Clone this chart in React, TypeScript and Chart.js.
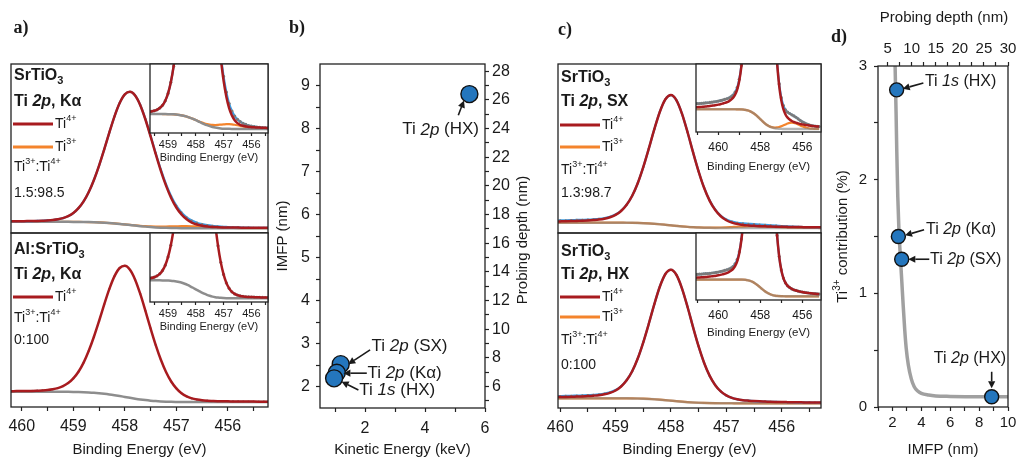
import React, { useEffect, useRef } from "react";
import { Chart, registerables } from "chart.js";
Chart.register(...registerables);

const W = 1018;
const H = 463;
const SANS = "'Liberation Sans', Arial, Helvetica, sans-serif";
const SERIF = "'Liberation Serif', 'Times New Roman', serif";
const RED = "#a81b1f";
const ORANGE = "#f4842c";
const BLUE = "#3c9ce2";
const GRAY = "#8d8d8d";
const DOTC = "#7a7a7a";
const MARK = "#2476bd";
const INK = "#1a1a1a";

// ---------------- panel a (Ti 2p, K-alpha) ----------------
const eVa = [460.2,460.1,460.0,459.9,459.8,459.7,459.6,459.5,459.4,459.3,459.2,459.1,459.0,458.9,458.8,458.7,458.6,458.5,458.4,458.3,458.2,458.1,458.0,457.9,457.8,457.7,457.6,457.5,457.4,457.3,457.2,457.1,457.0,456.9,456.8,456.7,456.6,456.5,456.4,456.3,456.2,456.1,456.0,455.9,455.8,455.7,455.6,455.5,455.4,455.3,455.2,455.1];
const redKa = [.082,.0823,.0827,.083,.0836,.0841,.0857,.0876,.0906,.0957,.1039,.1178,.1396,.1733,.2209,.2862,.3702,.4707,.5838,.7024,.8145,.9071,.9674,.9855,.9596,.8919,.7925,.6746,.5512,.4343,.3308,.2448,.1781,.1297,.0954,.0732,.0591,.0507,.0456,.0426,.0407,.0391,.0386,.038,.0377,.0373,.0369,.0365,.0363,.0361,.0359,.0357];
const bgKa = [.078,.078,.078,.078,.078,.078,.078,.078,.078,.078,.0779,.0778,.0776,.0773,.0769,.0762,.0752,.0737,.0718,.0694,.0665,.0631,.0594,.0555,.0516,.0479,.0445,.0416,.0392,.0373,.0358,.0348,.0341,.0337,.0334,.0332,.0331,.033,.033,.033,.033,.033,.033,.033,.033,.033,.033,.033,.033,.033,.033,.033];
const ti3Ka = [.078,.078,.078,.078,.078,.078,.078,.078,.078,.078,.0779,.0778,.0776,.0773,.0769,.0762,.0752,.0737,.0718,.0694,.0666,.0634,.0599,.0563,.0529,.0499,.0476,.046,.0452,.045,.0454,.0461,.0468,.0474,.0474,.0469,.0458,.0443,.0426,.0407,.039,.0374,.0361,.035,.0343,.0338,.0335,.0333,.0331,.033,.033,.033];
const envKa = [.082,.0823,.0827,.083,.0836,.0841,.0857,.0876,.0906,.0957,.1039,.1178,.1396,.1733,.2209,.2862,.3702,.4707,.5838,.7024,.8146,.9074,.9679,.9863,.9609,.8939,.7956,.679,.5572,.442,.3404,.2561,.1908,.1434,.1094,.0869,.0718,.062,.0552,.0503,.0467,.0435,.0417,.04,.039,.0381,.0374,.0368,.0364,.0361,.0359,.0357];

// Al:SrTiO3
const eVal = [460.3,460.2,460.1,460.0,459.9,459.8,459.7,459.6,459.5,459.4,459.3,459.2,459.1,459.0,458.9,458.8,458.7,458.6,458.5,458.4,458.3,458.2,458.1,458.0,457.9,457.8,457.7,457.6,457.5,457.4,457.3,457.2,457.1,457.0,456.9,456.8,456.7,456.6,456.5,456.4,456.3,456.2,456.1,456.0,455.9,455.8,455.7,455.6,455.5,455.4,455.3,455.2];
const redAl = [.1119,.1123,.1127,.113,.1136,.1141,.1157,.1176,.1206,.1257,.1339,.1477,.1694,.2029,.2502,.315,.3984,.4981,.6099,.727,.8373,.9278,.9858,1.0015,.9732,.9032,.8017,.682,.5571,.4389,.3346,.248,.1808,.1321,.0976,.0753,.0611,.0527,.0476,.0446,.0427,.0411,.0406,.04,.0397,.0393,.0389,.0385,.0383,.0381,.0379,.0377];
const bgAl = [.108,.108,.108,.108,.108,.108,.108,.108,.108,.108,.1079,.1077,.1074,.1069,.1062,.105,.1034,.1011,.0979,.094,.0893,.0838,.0778,.0715,.0652,.0592,.0537,.049,.0451,.0419,.0396,.038,.0368,.0361,.0356,.0353,.0351,.035,.035,.035,.035,.035,.035,.035,.035,.035,.035,.035,.035,.035,.035,.035];

// ---------------- panel c (Ti 2p, SX and HX) ----------------
const eVc = [461.1,461.0,460.9,460.8,460.7,460.6,460.5,460.4,460.3,460.2,460.1,460.0,459.9,459.8,459.7,459.6,459.5,459.4,459.3,459.2,459.1,459.0,458.9,458.8,458.7,458.6,458.5,458.4,458.3,458.2,458.1,458.0,457.9,457.8,457.7,457.6,457.5,457.4,457.3,457.2,457.1,457.0,456.9,456.8,456.7,456.6,456.5,456.4,456.3,456.2,456.1,456.0,455.9,455.8,455.7,455.6,455.5,455.4,455.3,455.2];
const redSX = [.0789,.0792,.0794,.0797,.0801,.0805,.0809,.0814,.082,.0826,.0833,.0841,.085,.0861,.0875,.0888,.0907,.0937,.0975,.1037,.1139,.1312,.1596,.2043,.2697,.3607,.4773,.6112,.7526,.8793,.9695,.9995,.9615,.8637,.7304,.5838,.4457,.3263,.2333,.1667,.1214,.0926,.0751,.0647,.0585,.0547,.0517,.0498,.0485,.0471,.046,.0451,.0443,.0436,.043,.0424,.0419,.0415,.0411,.0407];
const bgSX = [.075,.075,.075,.075,.075,.075,.075,.075,.075,.075,.075,.075,.075,.075,.075,.075,.075,.075,.075,.075,.0749,.0748,.0746,.0743,.0737,.0727,.0713,.0692,.0666,.0633,.0595,.0555,.0515,.0477,.0444,.0418,.0397,.0383,.0373,.0367,.0364,.0362,.0361,.036,.036,.036,.036,.036,.036,.036,.036,.036,.036,.036,.036,.036,.036,.036,.036,.036];
const ti3SX = [.075,.075,.075,.075,.075,.075,.075,.075,.075,.075,.075,.075,.075,.075,.075,.075,.075,.075,.075,.075,.0749,.0748,.0746,.0743,.0737,.0727,.0713,.0692,.0666,.0633,.0595,.0555,.0515,.0477,.0444,.042,.0401,.0391,.0387,.039,.04,.0414,.0432,.045,.0467,.0479,.0483,.0479,.0467,.045,.0431,.0412,.0396,.0383,.0374,.0368,.0364,.0362,.036,.036];
const envSX = [.0859,.0862,.0864,.0867,.0871,.0875,.0879,.0884,.089,.0896,.0903,.0911,.092,.0931,.0945,.0958,.0972,.0997,.103,.1087,.1179,.1342,.1616,.2053,.2697,.3607,.4773,.6112,.7526,.8793,.9695,.9995,.9615,.8637,.7304,.584,.4461,.3271,.2347,.169,.125,.0978,.0822,.0737,.0692,.0666,.064,.0617,.0592,.0561,.0531,.0503,.0479,.0459,.0444,.0432,.0423,.0417,.0411,.0407];
const redHX = [.0739,.0742,.0744,.0747,.0751,.0755,.0759,.0764,.077,.0776,.0783,.0791,.08,.0811,.0825,.0838,.0857,.0887,.0925,.0987,.109,.1264,.1549,.1997,.2653,.3565,.4733,.6075,.7492,.8762,.9667,.9969,.9591,.8615,.7283,.5818,.4437,.3243,.2313,.1647,.1194,.0906,.0731,.0627,.0565,.0527,.0497,.0478,.0465,.0451,.044,.0431,.0423,.0416,.041,.0404,.0399,.0395,.0391,.0387];
const bgHX = [.07,.07,.07,.07,.07,.07,.07,.07,.07,.07,.07,.07,.07,.07,.07,.07,.07,.07,.07,.07,.07,.07,.0699,.0697,.0693,.0685,.0673,.0655,.0632,.0602,.0567,.0529,.0491,.0455,.0423,.0398,.0377,.0363,.0353,.0347,.0344,.0342,.0341,.034,.034,.034,.034,.034,.034,.034,.034,.034,.034,.034,.034,.034,.034,.034,.034,.034];
const envHX = [.0809,.0812,.0814,.0817,.0821,.0825,.0829,.0834,.084,.0846,.0853,.0861,.087,.0881,.0895,.0908,.0922,.0947,.098,.1037,.113,.1294,.1569,.2007,.2653,.3565,.4733,.6075,.7492,.8762,.9667,.9969,.9591,.8615,.7283,.5818,.4437,.3243,.2313,.1647,.1194,.0906,.0731,.0627,.0565,.0527,.0497,.0478,.0465,.0451,.044,.0431,.0423,.0416,.041,.0404,.0399,.0395,.0391,.0387];

const ratioKa = "1.5:98.5";
const ratioAl = "0:100";
const ratioSX = "1.3:98.7";
const ratioHX = "0:100";

// ---------------- panel b ----------------
const bLabels = ["Ti _2p_ (HX)", "Ti _2p_ (SX)", "Ti _2p_ (Kα)", "Ti _1s_ (HX)"];
const bKeV = [5.48, 1.19, 1.06, 0.97];
const bIMFP = [8.8, 2.52, 2.32, 2.19];

// ---------------- panel d ----------------
const dLabels = ["Ti _1s_ (HX)", "Ti _2p_ (Kα)", "Ti _2p_ (SX)", "Ti _2p_ (HX)"];
const dIMFP = [2.29, 2.41, 2.64, 8.87];
const dTi3 = [2.79, 1.5, 1.3, 0.09];
const fitIMFP = [2.17, 2.2, 2.25, 2.3, 2.37, 2.45, 2.55, 2.65, 2.75, 2.85, 2.95, 3.1, 3.3, 3.5, 3.75, 4.0, 4.5, 5.0, 6.0, 8.0, 10.0];
const fitTi3 = [3.1, 2.9, 2.6, 2.25, 1.85, 1.55, 1.32, 1.1, 0.88, 0.68, 0.52, 0.37, 0.25, 0.18, 0.14, 0.12, 0.105, 0.097, 0.093, 0.09, 0.09];

// ---------------- ticks ----------------
const specTicks = [455.5, 456, 456.5, 457, 457.5, 458, 458.5, 459, 459.5, 460];
const insetATicks = [455.5, 456, 456.5, 457, 457.5, 458, 458.5, 459, 459.5];
const insetCTicks = [456, 457, 458, 459, 460, 461];
const bKeVTicks = [1, 2, 3, 4, 5, 6];
const bIMFPTicks = [2, 2.5, 3, 3.5, 4, 4.5, 5, 5.5, 6, 6.5, 7, 7.5, 8, 8.5, 9];
const bDepthTicks = [5, 6, 7, 8, 9, 10, 11, 12, 13, 14, 15, 16, 17, 18, 19, 20, 21, 22, 23, 24, 25, 26, 27, 28];
const dIMFPTicks = [1, 2, 3, 4, 5, 6, 7, 8, 9, 10];
const dDepthTicks = [5, 7.5, 10, 12.5, 15, 17.5, 20, 22.5, 25, 27.5, 30];
const dTi3Ticks = [0, 0.5, 1, 1.5, 2, 2.5, 3];

// ---------------- helpers ----------------
type Seg = { t: string; it: boolean; sup: boolean; sub: boolean };
function parseRich(s: string): Seg[] {
  const segs: Seg[] = [];
  let it = false, sup = false, sub = false, buf = "";
  for (const ch of s) {
    if (ch === "_" || ch === "^" || ch === "~") {
      if (buf) segs.push({ t: buf, it, sup, sub });
      buf = "";
      if (ch === "_") it = !it;
      else if (ch === "^") sup = !sup;
      else sub = !sub;
    } else buf += ch;
  }
  if (buf) segs.push({ t: buf, it, sup, sub });
  return segs;
}
function fontFor(sg: Seg, size: number, bold: boolean, family: string) {
  const sz = sg.sup || sg.sub ? Math.round(size * 0.66) : size;
  return `${sg.it ? "italic " : ""}${bold ? "bold " : ""}${sz}px ${family}`;
}
function drawRich(ctx: CanvasRenderingContext2D, s: string, x: number, y: number, size: number, o: any = {}) {
  const align = o.align || "left";
  const bold = !!o.bold;
  const family = o.family || SANS;
  const segs = parseRich(s);
  ctx.save();
  ctx.translate(x, y);
  if (o.rot) ctx.rotate(o.rot);
  let total = 0;
  const ws = segs.map((sg) => {
    ctx.font = fontFor(sg, size, bold, family);
    const w = ctx.measureText(sg.t).width;
    total += w;
    return w;
  });
  let cx = align === "left" ? 0 : align === "center" ? -total / 2 : -total;
  ctx.fillStyle = o.color || INK;
  ctx.textBaseline = "middle";
  ctx.textAlign = "left";
  segs.forEach((sg, k) => {
    ctx.font = fontFor(sg, size, bold, family);
    const dy = sg.sup ? -size * 0.36 : sg.sub ? size * 0.3 : 0;
    ctx.fillText(sg.t, cx, dy);
    cx += ws[k];
  });
  ctx.restore();
}
function arrow(ctx: CanvasRenderingContext2D, x1: number, y1: number, x2: number, y2: number) {
  const ang = Math.atan2(y2 - y1, x2 - x1);
  const hl = 7, hw = 3.6;
  const bx = x2 - hl * Math.cos(ang), by = y2 - hl * Math.sin(ang);
  ctx.save();
  ctx.strokeStyle = INK;
  ctx.fillStyle = INK;
  ctx.lineWidth = 1.6;
  ctx.beginPath();
  ctx.moveTo(x1, y1);
  ctx.lineTo(bx, by);
  ctx.stroke();
  ctx.beginPath();
  ctx.moveTo(x2, y2);
  ctx.lineTo(bx - hw * Math.sin(ang), by + hw * Math.cos(ang));
  ctx.lineTo(bx + hw * Math.sin(ang), by - hw * Math.cos(ang));
  ctx.closePath();
  ctx.fill();
  ctx.restore();
}
function legendLine(ctx: CanvasRenderingContext2D, x1: number, x2: number, y: number, color: string) {
  ctx.save();
  ctx.strokeStyle = color;
  ctx.lineWidth = 3;
  ctx.beginPath();
  ctx.moveTo(x1, y);
  ctx.lineTo(x2, y);
  ctx.stroke();
  ctx.restore();
}

function hiddenAxis(min: number, max: number, rev = false) {
  return { type: "linear", min, max, reverse: rev, display: false };
}
function tickAxis(o: any) {
  return {
    type: "linear",
    position: o.pos,
    min: o.min,
    max: o.max,
    reverse: !!o.rev,
    display: true,
    afterBuildTicks: (s: any) => {
      s.ticks = o.ticks.map((v: number) => ({ value: v }));
    },
    border: { display: false },
    grid: { drawOnChartArea: false, drawTicks: true, tickLength: o.tl ?? 4, tickColor: "#222", tickWidth: 1.2 },
    ticks: {
      autoSkip: false,
      maxRotation: 0,
      minRotation: 0,
      padding: o.pad ?? 3,
      color: INK,
      font: { family: SANS, size: o.size ?? 15 },
      callback: (v: number) => o.label(v),
    },
    title: { display: false },
  };
}
const pts = (xs: number[], ys: number[]) => xs.map((x, i) => ({ x, y: ys[i] }));
function lineDS(xs: number[], ys: number[], color: string, width: number) {
  return {
    type: "line",
    data: pts(xs, ys),
    borderColor: color,
    borderWidth: width,
    pointRadius: 0,
    fill: false,
    cubicInterpolationMode: "monotone",
  };
}
function dotDS(xs: number[], ys: number[], r: number) {
  return {
    type: "line",
    data: pts(xs, ys),
    showLine: false,
    pointRadius: r,
    pointBorderWidth: 0,
    pointBackgroundColor: DOTC,
    borderColor: DOTC,
  };
}

function mkChart(canvas: HTMLCanvasElement, cfg: any) {
  const [x0, y0, x1, y1] = cfg.area;
  const pad: any = { left: x0, top: y0, right: W - x1, bottom: H - y1 };
  for (const key of Object.keys(cfg.scales)) {
    const s = cfg.scales[key];
    if (s.display) {
      const side = s.position || (key.startsWith("x") ? "bottom" : "left");
      const size = pad[side];
      s.afterFit = (sc: any) => {
        if (sc.isHorizontal()) sc.height = size;
        else sc.width = size;
        sc.paddingLeft = 0;
        sc.paddingRight = 0;
        sc.paddingTop = 0;
        sc.paddingBottom = 0;
      };
      pad[side] = 0;
    }
  }
  return new Chart(canvas, {
    type: cfg.type || "line",
    data: { datasets: cfg.datasets },
    options: {
      responsive: false,
      animation: false,
      devicePixelRatio: 1,
      events: [],
      layout: { padding: pad },
      plugins: { legend: { display: false }, tooltip: { enabled: false } },
      scales: cfg.scales,
    } as any,
    plugins: [
      {
        id: "deco",
        beforeDatasetsDraw(chart: any) {
          if (cfg.inset) {
            const a = chart.chartArea;
            chart.ctx.save();
            chart.ctx.fillStyle = "#fff";
            chart.ctx.fillRect(a.left, a.top, a.right - a.left, a.bottom - a.top);
            chart.ctx.restore();
          }
        },
        afterDraw(chart: any) {
          const a = chart.chartArea;
          const ctx = chart.ctx;
          ctx.save();
          ctx.strokeStyle = "#222";
          ctx.lineWidth = 1.3;
          ctx.strokeRect(a.left, a.top, a.right - a.left, a.bottom - a.top);
          ctx.restore();
          if (cfg.draw) cfg.draw(chart, ctx);
        },
      },
    ],
  } as any);
}

const intLabel = (v: number) => (Number.isInteger(v) ? String(v) : "");
const evenLabel = (v: number) => (v % 2 === 0 ? String(v) : "");

function specLegend(ctx: CanvasRenderingContext2D, a: any, title: string, line: string, hasTi3: boolean, ratio: string, offs: number[]) {
  const x = a.left + 3;
  const t = a.top;
  drawRich(ctx, title, x, t + offs[0], 16, { bold: true });
  drawRich(ctx, line, x, t + offs[1], 16, { bold: true });
  legendLine(ctx, a.left + 2, a.left + 42, t + offs[2], RED);
  drawRich(ctx, "Ti^4+^", a.left + 44, t + offs[2], 14);
  let k = 3;
  if (hasTi3) {
    legendLine(ctx, a.left + 2, a.left + 42, t + offs[3], ORANGE);
    drawRich(ctx, "Ti^3+^", a.left + 44, t + offs[3], 14);
    k = 4;
  }
  drawRich(ctx, "Ti^3+^:Ti^4+^", x, t + offs[k], 14);
  drawRich(ctx, ratio, x, t + offs[k + 1], 14);
}

function specSets(xs: number[], red: number[], env: number[] | null, ti3: number[] | null, bg: number[], dotR: number, grayCol: string) {
  const ds: any[] = [lineDS(xs, red, RED, 2.5), dotDS(xs, env || red, dotR)];
  if (env) ds.push(lineDS(xs, env, BLUE, 2.2));
  ds.push(lineDS(xs, bg, grayCol, 2.5));
  if (ti3) ds.push(lineDS(xs, ti3, ORANGE, 2.2));
  return ds;
}
const GRAY_SOLID = GRAY;
const GRAY_SEE = "rgba(130,130,130,0.6)";

const builders: ((c: HTMLCanvasElement) => Chart)[] = [
  // a top
  (c) =>
    mkChart(c, {
      area: [11, 64, 268, 233],
      scales: { x: hiddenAxis(455.22, 460.21, true), y: hiddenAxis(0, 1.18) },
      datasets: specSets(eVa, redKa, envKa, ti3Ka, bgKa, 1.1, GRAY_SOLID),
      draw: (ch: any, ctx: any) => {
        specLegend(ctx, ch.chartArea, "SrTiO~3~", "Ti _2p_, Kα", true, ratioKa, [12, 38, 60, 83, 103, 129]);
        drawRich(ctx, "a)", 21, 28, 18, { bold: true, family: SERIF, align: "center" });
      },
    }),
  // a bottom
  (c) =>
    mkChart(c, {
      area: [11, 233, 268, 407],
      scales: {
        x: tickAxis({ pos: "bottom", min: 455.22, max: 460.21, rev: true, ticks: specTicks, label: intLabel, size: 16, tl: 4, pad: 6 }),
        y: hiddenAxis(0, 1.234),
      },
      datasets: specSets(eVal, redAl, null, null, bgAl, 1.1, GRAY_SOLID),
      draw: (ch: any, ctx: any) => {
        specLegend(ctx, ch.chartArea, "Al:SrTiO~3~", "Ti _2p_, Kα", false, ratioAl, [17, 42, 64, 85, 107]);
        const a = ch.chartArea;
        drawRich(ctx, "Binding Energy (eV)", (a.left + a.right) / 2, 450, 15, { align: "center" });
      },
    }),
  // a top inset
  (c) =>
    mkChart(c, {
      area: [150, 64, 268, 133],
      inset: true,
      scales: {
        x: tickAxis({ pos: "bottom", min: 455.4, max: 459.65, rev: true, ticks: insetATicks, label: intLabel, size: 11, tl: 3, pad: 2 }),
        y: hiddenAxis(0.021, 0.228),
      },
      datasets: specSets(eVa, redKa, envKa, ti3Ka, bgKa, 1.6, GRAY_SOLID),
      draw: (ch: any, ctx: any) => {
        const a = ch.chartArea;
        drawRich(ctx, "Binding Energy (eV)", (a.left + a.right) / 2, a.bottom + 25, 11, { align: "center" });
      },
    }),
  // a bottom inset
  (c) =>
    mkChart(c, {
      area: [150, 233, 268, 302],
      inset: true,
      scales: {
        x: tickAxis({ pos: "bottom", min: 455.4, max: 459.65, rev: true, ticks: insetATicks, label: intLabel, size: 11, tl: 3, pad: 2 }),
        y: hiddenAxis(0.02, 0.3),
      },
      datasets: specSets(eVal, redAl, null, null, bgAl, 1.6, GRAY_SOLID),
      draw: (ch: any, ctx: any) => {
        const a = ch.chartArea;
        drawRich(ctx, "Binding Energy (eV)", (a.left + a.right) / 2, a.bottom + 25, 11, { align: "center" });
      },
    }),
  // b
  (c) =>
    mkChart(c, {
      type: "scatter",
      area: [320, 64, 485, 408],
      scales: {
        x: tickAxis({ pos: "bottom", min: 0.5, max: 6, ticks: bKeVTicks, label: evenLabel, size: 16, tl: 4, pad: 7 }),
        y: tickAxis({ pos: "left", min: 1.5, max: 9.5, ticks: bIMFPTicks, label: intLabel, size: 16, tl: 4, pad: 6 }),
        y2: tickAxis({ pos: "right", min: 4.5, max: 28.5, ticks: bDepthTicks, label: (v: number) => (v % 2 === 0 && v >= 6 ? String(v) : ""), size: 16, tl: 4, pad: 3 }),
      },
      datasets: [
        {
          data: pts(bKeV, bIMFP),
          pointRadius: 8.5,
          pointBackgroundColor: MARK,
          pointBorderColor: "#111",
          pointBorderWidth: 1.4,
          clip: false,
        },
      ],
      draw: (ch: any, ctx: any) => {
        const X = (v: number) => ch.scales.x.getPixelForValue(v);
        const Y = (v: number) => ch.scales.y.getPixelForValue(v);
        const a = ch.chartArea;
        drawRich(ctx, bLabels[0], X(4.52), Y(7.97), 17, { align: "center" });
        arrow(ctx, X(5.11), Y(8.31), X(5.3), Y(8.65));
        drawRich(ctx, bLabels[1], X(2.22), Y(2.93), 17);
        arrow(ctx, X(2.17), Y(2.85), X(1.44), Y(2.52));
        drawRich(ctx, bLabels[2], X(2.08), Y(2.31), 17);
        arrow(ctx, X(2.06), Y(2.31), X(1.28), Y(2.31));
        drawRich(ctx, bLabels[3], X(1.81), Y(1.92), 17);
        arrow(ctx, X(1.78), Y(1.92), X(1.22), Y(2.11));
        drawRich(ctx, "Kinetic Energy (keV)", (a.left + a.right) / 2, 450, 15, { align: "center" });
        drawRich(ctx, "IMFP (nm)", 283, (a.top + a.bottom) / 2, 15, { align: "center", rot: -Math.PI / 2 });
        drawRich(ctx, "Probing depth (nm)", 523, 240, 15, { align: "center", rot: -Math.PI / 2 });
        drawRich(ctx, "b)", 297, 28, 18, { bold: true, family: SERIF, align: "center" });
      },
    }),
  // c top
  (c) =>
    mkChart(c, {
      area: [558, 64, 821, 233],
      scales: { x: hiddenAxis(455.29, 460.04, true), y: hiddenAxis(0, 1.225) },
      datasets: specSets(eVc, redSX, envSX, ti3SX, bgSX, 1.1, GRAY_SEE),
      draw: (ch: any, ctx: any) => {
        specLegend(ctx, ch.chartArea, "SrTiO~3~", "Ti _2p_, SX", true, ratioSX, [14, 38, 61, 83, 106, 129]);
        drawRich(ctx, "c)", 565, 30, 18, { bold: true, family: SERIF, align: "center" });
      },
    }),
  // c bottom
  (c) =>
    mkChart(c, {
      area: [558, 233, 821, 408],
      scales: {
        x: tickAxis({ pos: "bottom", min: 455.29, max: 460.04, rev: true, ticks: specTicks, label: intLabel, size: 16, tl: 4, pad: 6 }),
        y: hiddenAxis(0, 1.262),
      },
      datasets: specSets(eVc, redHX, envHX, bgHX, bgHX, 1.1, GRAY_SEE),
      draw: (ch: any, ctx: any) => {
        specLegend(ctx, ch.chartArea, "SrTiO~3~", "Ti _2p_, HX", true, ratioHX, [19, 42, 64, 84, 107, 132]);
        const a = ch.chartArea;
        drawRich(ctx, "Binding Energy (eV)", (a.left + a.right) / 2, 450, 15, { align: "center" });
      },
    }),
  // c top inset
  (c) =>
    mkChart(c, {
      area: [696, 64, 821, 132],
      inset: true,
      scales: {
        x: tickAxis({ pos: "bottom", min: 455.11, max: 461.06, rev: true, ticks: insetCTicks, label: evenLabel, size: 12, tl: 3, pad: 5 }),
        y: hiddenAxis(0.03, 0.1645),
      },
      datasets: specSets(eVc, redSX, envSX, ti3SX, bgSX, 1.6, GRAY_SEE),
      draw: (ch: any, ctx: any) => {
        const a = ch.chartArea;
        drawRich(ctx, "Binding Energy (eV)", (a.left + a.right) / 2, a.bottom + 35, 11.5, { align: "center" });
      },
    }),
  // c bottom inset
  (c) =>
    mkChart(c, {
      area: [696, 233, 821, 300],
      inset: true,
      scales: {
        x: tickAxis({ pos: "bottom", min: 455.11, max: 461.06, rev: true, ticks: insetCTicks, label: evenLabel, size: 12, tl: 3, pad: 5 }),
        y: hiddenAxis(0.026, 0.17),
      },
      datasets: specSets(eVc, redHX, envHX, bgHX, bgHX, 1.6, GRAY_SEE),
      draw: (ch: any, ctx: any) => {
        const a = ch.chartArea;
        drawRich(ctx, "Binding Energy (eV)", (a.left + a.right) / 2, a.bottom + 33, 11.5, { align: "center" });
      },
    }),
  // d
  (c) =>
    mkChart(c, {
      type: "scatter",
      area: [878, 66, 1008, 407],
      scales: {
        x: tickAxis({ pos: "bottom", min: 1, max: 10, ticks: dIMFPTicks, label: evenLabel, size: 15, tl: 4, pad: 3 }),
        x2: tickAxis({ pos: "top", min: 3, max: 30, ticks: dDepthTicks, label: (v: number) => (v % 5 === 0 ? String(v) : ""), size: 15, tl: 4, pad: 4 }),
        y: tickAxis({ pos: "left", min: 0, max: 3, ticks: dTi3Ticks, label: intLabel, size: 15, tl: 4, pad: 7 }),
      },
      datasets: [
        {
          data: pts(dIMFP, dTi3),
          pointRadius: 7,
          pointBackgroundColor: MARK,
          pointBorderColor: "#111",
          pointBorderWidth: 1.4,
          clip: false,
        },
        {
          type: "line",
          data: pts(fitIMFP, fitTi3),
          showLine: true,
          borderColor: "#a0a0a0",
          borderWidth: 3.5,
          pointRadius: 0,
          cubicInterpolationMode: "monotone",
        },
      ],
      draw: (ch: any, ctx: any) => {
        const X = (v: number) => ch.scales.x.getPixelForValue(v);
        const Y = (v: number) => ch.scales.y.getPixelForValue(v);
        const a = ch.chartArea;
        drawRich(ctx, dLabels[0], X(4.25), Y(2.86), 16);
        arrow(ctx, X(4.14), Y(2.85), X(2.71), Y(2.8));
        drawRich(ctx, dLabels[1], X(4.32), Y(1.56), 16);
        arrow(ctx, X(4.19), Y(1.56), X(2.87), Y(1.51));
        drawRich(ctx, dLabels[2], X(4.6), Y(1.3), 16);
        arrow(ctx, X(4.55), Y(1.3), X(3.1), Y(1.3));
        drawRich(ctx, dLabels[3], X(7.37), Y(0.43), 16, { align: "center" });
        arrow(ctx, X(8.87), Y(0.31), X(8.87), Y(0.165));
        drawRich(ctx, "IMFP (nm)", (a.left + a.right) / 2, 450, 15, { align: "center" });
        drawRich(ctx, "Probing depth (nm)", (a.left + a.right) / 2 + 1, 18, 15, { align: "center" });
        drawRich(ctx, "Ti^3+^ contribution (%)", 843, (a.top + a.bottom) / 2, 15, { align: "center", rot: -Math.PI / 2 });
        drawRich(ctx, "d)", 839, 37, 18, { bold: true, family: SERIF, align: "center" });
      },
    }),
];

export default function App() {
  const holder = useRef<(HTMLCanvasElement | null)[]>([]);
  useEffect(() => {
    const charts = builders.map((b, i) => b(holder.current[i] as HTMLCanvasElement));
    return () => charts.forEach((ch) => ch.destroy());
  }, []);
  return (
    <div style={{ position: "fixed", left: 0, top: 0, width: W, height: H, background: "#fff", overflow: "hidden" }}>
      {builders.map((_, i) => (
        <canvas
          key={i}
          ref={(el) => {
            holder.current[i] = el;
          }}
          width={W}
          height={H}
          style={{ position: "absolute", left: 0, top: 0, width: W, height: H }}
        />
      ))}
    </div>
  );
}
